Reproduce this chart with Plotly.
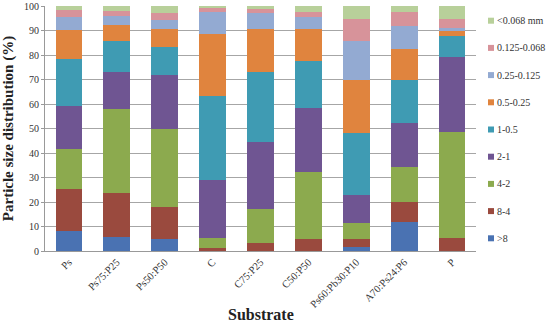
import plotly.graph_objects as go

categories = ["Ps", "Ps75:P25", "Ps50:P50", "C", "C75:P25", "C50:P50",
              "Ps60:Pb30:P10", "A70:Ps24:P6", "P"]

series_names = [">8", "8-4", "4-2", "2-1", "1-0.5", "0.5-0.25",
                "0.25-0.125", "0.125-0.068", "<0.068 mm"]

gt8 =       [8.0, 5.6, 4.8, 0.0, 0.0, 0.0, 1.5, 12.0, 0.0]
s8_4 =      [17.2, 18.2, 13.0, 1.2, 3.3, 4.8, 3.3, 8.1, 5.5]
s4_2 =      [16.4, 34.2, 32.2, 4.0, 13.8, 27.6, 6.5, 14.3, 43.2]
s2_1 =      [17.6, 15.2, 22.0, 23.8, 27.5, 26.1, 11.7, 17.7, 30.3]
s1_05 =     [19.0, 12.6, 11.3, 34.3, 28.6, 19.1, 25.0, 17.7, 8.8]
s05_025 =   [12.0, 6.4, 7.2, 25.1, 17.4, 12.9, 21.8, 12.6, 2.0]
s025_0125 = [5.4, 3.8, 3.8, 9.0, 6.4, 5.1, 15.9, 9.6, 1.1]
s0125_0068 = [2.8, 1.8, 2.7, 2.1, 1.9, 2.1, 9.0, 5.4, 3.7]
lt0068 =    [1.6, 2.2, 3.0, 0.5, 1.1, 2.3, 5.3, 2.6, 5.4]

all_series = [gt8, s8_4, s4_2, s2_1, s1_05, s05_025, s025_0125, s0125_0068, lt0068]

colors = ["#4A72B2", "#9A4A3E", "#8CAA4E", "#6F5592", "#3F9BB3",
          "#E0843E", "#93AAD2", "#D7939A", "#B8D09A"]

W, H = 550, 326
ML, MR, MT, MB = 45, 74, 6, 75
PW, PH = W - ML - MR, H - MT - MB

def px_x(px):
    return (px - ML) / PW

def px_y(py):
    return (H - MB - py) / PH

fig = go.Figure()
for name, vals, col in zip(series_names, all_series, colors):
    fig.add_trace(go.Bar(
        x=categories, y=vals, name=name,
        marker=dict(color=col, line=dict(width=0)),
    ))

serif = "Liberation Serif, Times New Roman, serif"

# manual legend (top to bottom: finest fraction first)
shapes = []
annotations = []
leg_top, leg_step = 20.7, 27.2
for i, (name, col) in enumerate(reversed(list(zip(series_names, colors)))):
    cy = leg_top + i * leg_step
    shapes.append(dict(
        type="rect", xref="paper", yref="paper",
        x0=px_x(488), x1=px_x(494), y0=px_y(cy + 3), y1=px_y(cy - 3),
        fillcolor=col, line=dict(width=0),
    ))
    annotations.append(dict(
        text=name, xref="paper", yref="paper",
        x=px_x(495), y=px_y(cy), xanchor="left", yanchor="middle",
        showarrow=False, font=dict(family=serif, size=10, color="#333333"),
    ))

annotations.append(dict(
    text="<b>Substrate</b>", xref="paper", yref="paper",
    x=0.5, y=px_y(314), xanchor="center", yanchor="middle", showarrow=False,
    font=dict(family=serif, size=16, color="#222222"),
))

fig.update_layout(
    barmode="stack",
    bargap=0.44,
    width=W, height=H,
    margin=dict(l=ML, r=MR, t=MT, b=MB, autoexpand=False),
    plot_bgcolor="white",
    paper_bgcolor="white",
    font=dict(family=serif, size=10, color="#333333"),
    showlegend=False,
    xaxis=dict(
        tickangle=-45,
        tickfont=dict(family=serif, size=10.5, color="#333333"),
        showline=True, linecolor="#999999", linewidth=1,
        showgrid=False, automargin=False,
    ),
    yaxis=dict(
        title=dict(text="<b>Particle size distribution (%)</b>", font=dict(family=serif, size=15, color="#222222"), standoff=6),
        range=[0, 100], dtick=10,
        tickfont=dict(family=serif, size=10, color="#333333"),
        showline=True, linecolor="#999999", linewidth=1,
        showgrid=True, gridcolor="#A6A6A6", gridwidth=1,
        ticks="outside", ticklen=3, tickcolor="#999999",
        zeroline=False, automargin=False,
    ),
    shapes=shapes,
    annotations=annotations,
)

fig.write_html("out.html", config={"displayModeBar": False},
               post_script="document.body.style.margin='0';")
